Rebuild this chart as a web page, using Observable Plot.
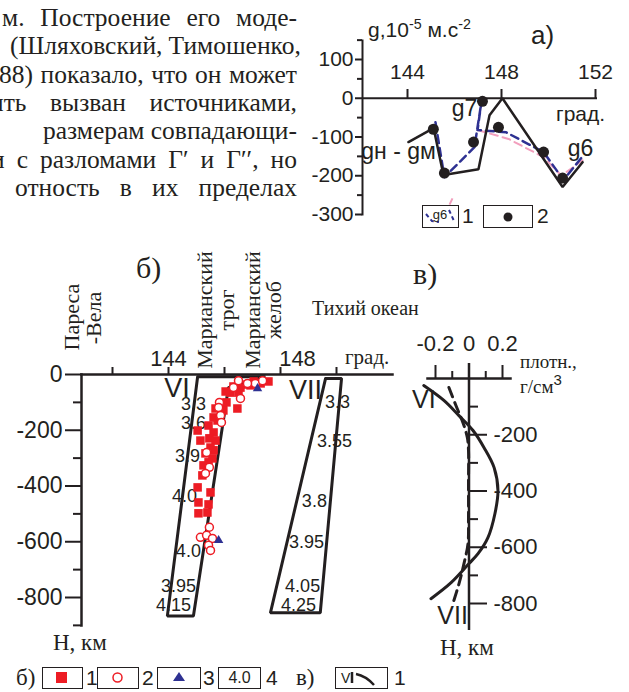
<!DOCTYPE html>
<html><head><meta charset="utf-8">
<script src="https://cdn.jsdelivr.net/npm/d3@7"></script>
<script src="https://cdn.jsdelivr.net/npm/@observablehq/plot@0.6"></script>
<style>
body{margin:0;background:#fff;}
#wrap{position:relative;width:629px;height:692px;overflow:hidden;background:#fff;font-family:"Liberation Sans",Arial,sans-serif;color:#231f20;}
.abs{position:absolute;white-space:nowrap;}
.serif{font-family:"Liberation Serif","Times New Roman",serif;}
.para{position:absolute;display:flex;justify-content:space-between;column-gap:6px;font-family:"Liberation Serif","Times New Roman",serif;font-size:25.5px;line-height:28px;white-space:nowrap;}
.box{position:absolute;border:1.5px solid #231f20;box-sizing:border-box;background:#fff;}
.rot{position:absolute;white-space:nowrap;transform:translate(-50%,-50%) rotate(-90deg);font-family:"Liberation Serif","Times New Roman",serif;font-size:22px;line-height:22px;}
sup{font-size:0.68em;vertical-align:0.55em;line-height:0;}
</style></head><body><div id="wrap"></div>
<script>
const ink = "#231f20";
const red = "#ed1c24";
const blue = "#2e3192";
const pink = "#f29fbd";
const SANS = '"Liberation Sans", Arial, sans-serif';

// ---------- text of the page ----------
const paraLines = ["м. Построение его моде-","(Шляховский, Тимошенко,","88) показало, что он может","ить вызван источниками,","размерам совпадающи-","и с разломами Г′ и Г′′, но","отность в их пределах"];
const paraLeft = [2,10,-1,-10,43,-9,15];

// ---------- panel a) ----------
const aLonTicks = [144,148,152];
const aMajorTicks = [100,0,-100,-200,-300];
const aMinorTicks = [150,50,-50,-150,-250];
const aBlackLon = [144.04,145.11,145.53,147.02,147.49,148.04,150.6,151.45];
const aBlackG   = [-113,-77,-198,-183,-44,0,-229,-165];
const aBlueLon  = [145.19,145.57,146.85,147.15,146.98,148.2,149.79,150.64,151.49];
const aBlueG    = [-62,-204,-126,-8,-82,-88,-139,-211,-147];
const aPinkLon  = [146.98,148.3,149.79,150.55,151.45];
const aPinkG    = [-82,-105,-152,-200,-160];
const aDotLon   = [145.1,145.57,146.81,147.19,147.87,149.79,150.6];
const aDotG     = [-80,-193,-113,-8,-75,-139,-206];
const aLabels   = ["g7","g6","gн - gм"];
const aLabelLon = [146.43,151.36,143.62];
const aLabelG   = [-28,-129,-139];

// ---------- panel б) ----------
const bLonTicks = [142,144,146,148,150];
const bLonLabelsA = [144];
const bLonLabelsB = [148];
const bMajorH = [0,-200,-400,-600,-800];
const bMinorH = [-100,-300,-500,-700,-900];
const trapVILon = [145.04,147.46,146.14,144.89,143.96,145.04];
const trapVIH   = [-8,-8,-47,-866,-866,-8];
const trapVIILon = [149.61,150.18,149.42,147.64,149.61];
const trapVIIH   = [-14,-14,-855,-855,-14];
const densVI  = ["3.3","3.6","3.9","4.0","4.0","3.95","4.15"];
const densVILon = [144.89,144.89,144.68,144.57,144.71,144.36,144.18];
const densVIH   = [-106,-176,-294,-437,-634,-758,-826];
const densVII = ["3.3","3.55","3.8","3.95","4.05","4.25"];
const densVIILon = [150.04,149.93,149.21,148.93,148.79,148.64];
const densVIIH   = [-100,-240,-455,-602,-758,-826];
const zoneNames = ["VI","VII"];
const zoneLon = [144.3,148.89];
const zoneH = [-48,-57];
const sqLon = [147.57,147.29,147.04,146.93,146.82,146.57,146.32,146.21,146.04,146.5,146.07,145.93,145.68,145.96,146.46,145.61,145.75,145.43,145.61,145.04,145.14,145.46,145.68,145.5,145.61,145.32,145.57,145.43,145.25,145.21,145.04,145.5,145.07,145.43,145.07,145.39];
const sqH   = [-25,-32,-25,-39,-36,-47,-43,-65,-61,-65,-100,-104,-122,-129,-122,-154,-165,-183,-208,-201,-237,-229,-237,-262,-272,-283,-301,-315,-326,-362,-405,-423,-459,-466,-498,-495];
const ciLon = [146.5,146.57,145.82,145.79,145.86,145.89,145.36,145.46,145.32,145.46,145.14,145.36,145.57,145.43,145.5,146.32,147.1,147.36,146.82];
const ciH   = [-22,-86,-100,-118,-147,-172,-280,-333,-355,-548,-584,-577,-588,-613,-631,-47,-32,-22,-32];
const trLon = [145.79,147.18];
const trH   = [-595,-50];

// ---------- panel в) ----------
const cMajorX = [-0.2,0,0.2];
const cMinorX = [-0.1,0.1];
const cMajorH = [-200,-400,-600,-800];
const cMinorH = [-100,-300,-500,-700];
const cVIDens = [-0.27,-0.15,-0.06,0.024,0.09,0.15,0.173,0.155,0.113,0.054,0,-0.107,-0.227];
const cVIH    = [-25,-78,-132,-185,-246,-317,-399,-480,-566,-623,-658,-726,-783];
const cVIIDens = [-0.12,-0.078,-0.036,-0.01,-0.003,-0.003,-0.003,-0.006,-0.03,-0.06,-0.096];
const cVIIH    = [-32,-96,-157,-210,-256,-374,-495,-587,-658,-730,-800];
const cNames = ["VI","VII"];
const cNameDens = [-0.27,-0.098];
const cNameH = [-78,-843];

const pairs = (xs, ys) => xs.map((v,i)=>({x:v, y:ys[i]}));

const wrap = document.getElementById("wrap");
function addDiv(html, css, cls="abs") {
  const d = document.createElement("div");
  d.className = cls; d.innerHTML = html; d.style.cssText += css; wrap.appendChild(d); return d;
}
function place(svg) {
  svg.style.position = "absolute"; svg.style.left = "0px"; svg.style.top = "0px";
  svg.style.background = "transparent"; svg.style.overflow = "visible";
  svg.style.maxWidth = "none"; svg.style.fontFamily = SANS; svg.style.color = ink;
  wrap.appendChild(svg);
}

// paragraph
paraLines.forEach((t,i)=>{
  const d = document.createElement("div");
  d.className = "para";
  d.style.left = paraLeft[i]+"px";
  d.style.width = (297-paraLeft[i])+"px";
  d.style.top = (4 + i*28.3)+"px";
  t.split(" ").forEach(w=>{const s=document.createElement("span"); s.textContent=w; d.appendChild(s);});
  wrap.appendChild(d);
});

// ---------- plot a ----------
const plotA = Plot.plot({
  width: 629, height: 692,
  marginLeft: 362, marginRight: 32, marginTop: 40, marginBottom: 478,
  x: {domain: [144,152], range: [407,595]},
  y: {domain: [100,-300], range: [59,214]},
  marks: [
    Plot.frame({anchor: "left", stroke: ink, strokeWidth: 2}),
    Plot.ruleY([0], {stroke: ink, strokeWidth: 2}),
    Plot.axisY({ticks: aMinorTicks, tickSize: 5, tickFormat: () => "", label: null, strokeWidth: 2}),
    Plot.axisY({ticks: aMajorTicks, tickSize: 7, tickPadding: 2, tickFormat: d => String(d), label: null, fontSize: 21, strokeWidth: 2}),
    Plot.axisX({anchor: "top", ticks: aLonTicks, tickSize: 10, tickPadding: 10, dy: 58, tickFormat: d => String(d), label: null, fontSize: 21, strokeWidth: 2}),
    Plot.line(pairs(aPinkLon, aPinkG), {x: "x", y: "y", stroke: pink, strokeWidth: 2, strokeDasharray: "8,5"}),
    Plot.line(pairs(aBlueLon, aBlueG), {x: "x", y: "y", stroke: blue, strokeWidth: 2.5, strokeDasharray: "8,5"}),
    Plot.line(pairs(aBlackLon, aBlackG), {x: "x", y: "y", stroke: ink, strokeWidth: 2.5, strokeLinejoin: "miter"}),
    Plot.dot(pairs(aDotLon, aDotG), {x: "x", y: "y", r: 5.5, fill: ink}),
    Plot.text(aLabels.map((t,i)=>({t, x: aLabelLon[i], y: aLabelG[i]})), {x: "x", y: "y", text: "t", fontSize: 23, fill: ink})
  ]
});
place(plotA);

addDiv('g,10<sup>-5</sup> м.с<sup>-2</sup>', 'left:368px;top:20px;font-size:21px;line-height:20px;');
addDiv('а)', 'left:531px;top:23px;font-size:26px;line-height:25px;');
addDiv('град.', 'left:556px;top:103px;font-size:21px;line-height:22px;');
// legend a
addDiv('<svg width="34" height="20"><path d="M3,8 L9,15 L16,16" fill="none" stroke="'+blue+'" stroke-width="2" stroke-dasharray="4,3"/><path d="M26,4 L31,15" fill="none" stroke="'+blue+'" stroke-width="2" stroke-dasharray="4,3"/><text x="17" y="13" text-anchor="middle" font-size="13" fill="'+ink+'" font-family=\'Liberation Sans, Arial\'>g6</text></svg>', 'left:422px;top:205px;width:37px;height:23px;line-height:0;', 'box');
addDiv('', 'left:450px;top:198px;width:2px;height:7px;background:'+pink+';transform:rotate(25deg);');
addDiv('1', 'left:462px;top:206px;font-size:21px;line-height:20px;');
addDiv('<svg width="47" height="20"><circle cx="24" cy="11" r="4.5" fill="'+ink+'"/></svg>', 'left:483px;top:205px;width:50px;height:23px;line-height:0;', 'box');
addDiv('2', 'left:537px;top:206px;font-size:21px;line-height:20px;');

// ---------- plot б ----------
const plotB = Plot.plot({
  width: 629, height: 692,
  marginLeft: 81, marginRight: 237, marginTop: 374, marginBottom: 67,
  x: {domain: [144,148], range: [168,280]},
  y: {domain: [0,-800], range: [374,597]},
  marks: [
    Plot.frame({anchor: "left", stroke: ink, strokeWidth: 2.5}),
    Plot.frame({anchor: "top", stroke: ink, strokeWidth: 2.5}),
    Plot.axisY({ticks: bMinorH, tickSize: 8, tickFormat: () => "", label: null, strokeWidth: 2}),
    Plot.axisY({ticks: bMajorH, tickSize: 16, tickPadding: 3, tickFormat: d => String(d), label: null, fontSize: 23, strokeWidth: 2}),
    Plot.axisX({anchor: "top", ticks: bLonTicks, tickSize: 8, tickPadding: 1, tickFormat: d => bLonLabelsA.includes(d) ? String(d) : "", label: null, fontSize: 22, strokeWidth: 2}),
    Plot.axisX({anchor: "top", ticks: bLonLabelsB, tickSize: 0, tickPadding: 9, dx: 17, tickFormat: d => String(d), label: null, fontSize: 22, strokeWidth: 0}),
    Plot.line(pairs(trapVILon, trapVIH), {x: "x", y: "y", stroke: ink, strokeWidth: 3, strokeLinejoin: "miter"}),
    Plot.line(pairs(trapVIILon, trapVIIH), {x: "x", y: "y", stroke: ink, strokeWidth: 3, strokeLinejoin: "miter"}),
    Plot.text(densVI.map((t,i)=>({t, x: densVILon[i], y: densVIH[i]})), {x: "x", y: "y", text: "t", fontSize: 18, fill: ink}),
    Plot.text(densVII.map((t,i)=>({t, x: densVIILon[i], y: densVIIH[i]})), {x: "x", y: "y", text: "t", fontSize: 18, fill: ink}),
    Plot.text(zoneNames.map((t,i)=>({t, x: zoneLon[i], y: zoneH[i]})), {x: "x", y: "y", text: "t", fontSize: 27, fill: ink}),
    Plot.dot(pairs(sqLon, sqH), {x: "x", y: "y", symbol: "square", r: 4.8, fill: red}),
    Plot.dot(pairs(ciLon, ciH), {x: "x", y: "y", r: 4, fill: "white", stroke: red, strokeWidth: 1.5}),
    Plot.dot(pairs(trLon, trH), {x: "x", y: "y", symbol: "triangle", r: 3.5, fill: blue})
  ]
});
place(plotB);

addDiv('б)', 'left:136px;top:253px;font-size:30px;line-height:30px;', 'abs serif');
addDiv('Пареса', 'left:72px;top:317px;', 'rot');
addDiv('-Вела', 'left:94px;top:318px;', 'rot');
addDiv('Марианский', 'left:205px;top:310px;', 'rot');
addDiv('трог', 'left:227px;top:310px;', 'rot');
addDiv('Марианский', 'left:253px;top:310px;', 'rot');
addDiv('желоб', 'left:274px;top:310px;', 'rot');
addDiv('Тихий океан', 'left:312px;top:297px;font-size:20px;line-height:22px;', 'abs serif');
addDiv('град.', 'left:345px;top:346px;font-size:21px;line-height:22px;', 'abs serif');
addDiv('H, км', 'left:53px;top:631px;font-size:23px;line-height:24px;', 'abs serif');

// ---------- plot в ----------
const plotC = Plot.plot({
  width: 629, height: 692,
  marginLeft: 427, marginRight: 119, marginTop: 378, marginBottom: 62,
  x: {domain: [-0.2,0.2], range: [435,502]},
  y: {domain: [0,-800], range: [378,603]},
  marks: [
    Plot.frame({anchor: "top", stroke: ink, strokeWidth: 2.5}),
    Plot.ruleX([0], {insetTop: -15, stroke: ink, strokeWidth: 2.5}),
    Plot.axisX({anchor: "top", ticks: cMinorX, tickSize: 8, tickFormat: () => "", label: null, strokeWidth: 2}),
    Plot.axisX({anchor: "top", ticks: cMajorX, tickSize: 14, tickPadding: 14, tickFormat: d => String(d), label: null, fontSize: 22, strokeWidth: 2}),
    Plot.axisY({anchor: "right", ticks: cMinorH, tickSize: 9, dx: -42, tickFormat: () => "", label: null, strokeWidth: 2}),
    Plot.axisY({anchor: "right", ticks: cMajorH, tickSize: 18, tickPadding: 7, dx: -42, tickFormat: d => String(d), label: null, fontSize: 22, strokeWidth: 2}),
    Plot.line(pairs(cVIIDens, cVIIH), {x: "x", y: "y", stroke: ink, strokeWidth: 3, strokeDasharray: "10,6", curve: "catmull-rom"}),
    Plot.line(pairs(cVIDens, cVIH), {x: "x", y: "y", stroke: ink, strokeWidth: 3, curve: "catmull-rom"}),
    Plot.text(cNames.map((t,i)=>({t, x: cNameDens[i], y: cNameH[i]})), {x: "x", y: "y", text: "t", fontSize: 25, fill: ink})
  ]
});
place(plotC);

addDiv('в)', 'left:413px;top:259px;font-size:30px;line-height:30px;', 'abs serif');
addDiv('плотн.,', 'left:520px;top:352px;font-size:19px;line-height:20px;', 'abs serif');
addDiv('г/см<sup style="font-family:Liberation Sans,Arial;font-size:15px">3</sup>', 'left:520px;top:377px;font-size:19px;line-height:20px;', 'abs serif');
addDiv('H, км', 'left:440px;top:636px;font-size:23px;line-height:24px;', 'abs serif');

// ---------- bottom legend ----------
addDiv('б)', 'left:16px;top:666px;font-size:23px;line-height:24px;', 'abs serif');
addDiv('<svg width="38" height="19"><rect x="13" y="4" width="11" height="11" fill="'+red+'"/></svg>', 'left:42px;top:667px;width:41px;height:22px;line-height:0;', 'box');
addDiv('1', 'left:86px;top:668px;font-size:21px;line-height:20px;');
addDiv('<svg width="38" height="19"><circle cx="19.5" cy="9.5" r="4.5" fill="white" stroke="'+red+'" stroke-width="1.5"/></svg>', 'left:97px;top:667px;width:42px;height:22px;line-height:0;', 'box');
addDiv('2', 'left:142px;top:668px;font-size:21px;line-height:20px;');
addDiv('<svg width="40" height="19"><path d="M21,4 L27,13 L15,13 Z" fill="'+blue+'"/></svg>', 'left:157px;top:667px;width:44px;height:22px;line-height:0;', 'box');
addDiv('3', 'left:203px;top:668px;font-size:21px;line-height:20px;');
addDiv('<div style="text-align:center;font-size:16px;line-height:19px">4.0</div>', 'left:218px;top:667px;width:43px;height:22px;', 'box');
addDiv('4', 'left:266px;top:668px;font-size:21px;line-height:20px;');
addDiv('в)', 'left:296px;top:666px;font-size:23px;line-height:24px;', 'abs serif');
addDiv('<svg width="50" height="19"><text x="5" y="15" font-size="14" font-family="Liberation Sans, Arial" fill="'+ink+'">V</text><path d="M16,4 L16,15" stroke="'+ink+'" stroke-width="2.5"/><path d="M20,6 Q30,8 38,17" fill="none" stroke="'+ink+'" stroke-width="2.5"/></svg>', 'left:335px;top:667px;width:53px;height:22px;line-height:0;', 'box');
addDiv('1', 'left:394px;top:668px;font-size:21px;line-height:20px;');
</script></body></html>
